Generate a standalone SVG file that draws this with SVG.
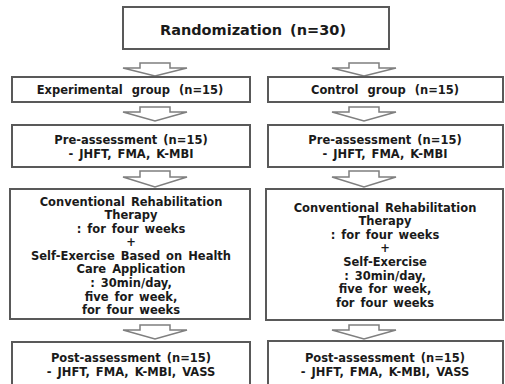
<svg xmlns="http://www.w3.org/2000/svg" width="505" height="384" viewBox="0 0 505 384">
<style>
.box{fill:#fff;stroke:#595959;stroke-width:2}
.arr{fill:#fff;stroke:#7f7f7f;stroke-width:1.5;stroke-linejoin:miter}
text{font-family:"DejaVu Sans","Liberation Sans",sans-serif;font-weight:bold;font-size:11.5px;fill:#1a1a1a;text-anchor:middle;word-spacing:2px}
.big{font-size:14.5px;word-spacing:3px}
.wide{word-spacing:5px}
</style>
<rect width="505" height="384" fill="#fff"/>
<g id="connectors">
<path class="arr" d="M140,63 H170 V68 H187 L155,76 L123,68 H140 Z"/>
<path class="arr" d="M349,63 H379 V68 H396 L364,76 L332,68 H349 Z"/>
<path class="arr" d="M140,107 H170 V112 H187 L155,121 L123,112 H140 Z"/>
<path class="arr" d="M349,107 H379 V112 H396 L364,121 L332,112 H349 Z"/>
<path class="arr" d="M140,171 H170 V177 H187 L155,187 L123,177 H140 Z"/>
<path class="arr" d="M349,171 H379 V177 H396 L364,187 L332,177 H349 Z"/>
<path class="arr" d="M140,325 H170 V330 H187 L155,339 L123,330 H140 Z"/>
<path class="arr" d="M349,325 H379 V330 H396 L364,339 L332,330 H349 Z"/>
</g>
<g id="randomization">
<rect class="box" x="123" y="7" width="266" height="42"/>
<text class="big" x="253" y="34.5">Randomization (n=30)</text>
</g>
<g id="experimental">
<rect class="box" x="12" y="77" width="238" height="25"/>
<text class="wide" x="130" y="93.5">Experimental group (n=15)</text>
</g>
<g id="control">
<rect class="box" x="268" y="77" width="235" height="25"/>
<text class="wide" x="385" y="93.5">Control group (n=15)</text>
</g>
<g id="pre-exp">
<rect class="box" x="12" y="125" width="238" height="42"/>
<text x="131" y="144">Pre-assessment (n=15)</text>
<text x="131" y="157.5">- JHFT, FMA, K-MBI</text>
</g>
<g id="pre-ctrl">
<rect class="box" x="268" y="125" width="235" height="42"/>
<text x="385" y="144">Pre-assessment (n=15)</text>
<text x="385" y="157.5">- JHFT, FMA, K-MBI</text>
</g>
<g id="intervention-exp">
<rect class="box" x="10" y="189" width="240" height="130"/>
<text x="131" y="205.5">Conventional Rehabilitation</text>
<text x="131" y="219">Therapy</text>
<text x="131" y="232.6">: for four weeks</text>
<text x="131" y="246.2">+</text>
<text x="131" y="259.8">Self-Exercise Based on Health</text>
<text x="131" y="273.4">Care Application</text>
<text x="131" y="287">: 30min/day,</text>
<text x="131" y="300.6">five for week,</text>
<text x="131" y="314.2">for four weeks</text>
</g>
<g id="intervention-ctrl">
<rect class="box" x="266" y="189" width="237" height="131"/>
<text x="385" y="211.5">Conventional Rehabilitation</text>
<text x="385" y="225.1">Therapy</text>
<text x="385" y="238.7">: for four weeks</text>
<text x="385" y="252.3">+</text>
<text x="385" y="265.9">Self-Exercise</text>
<text x="385" y="279.5">: 30min/day,</text>
<text x="385" y="293.1">five for week,</text>
<text x="385" y="306.7">for four weeks</text>
</g>
<g id="post-exp">
<rect class="box" x="12" y="342" width="238" height="50"/>
<text x="131" y="361.5">Post-assessment (n=15)</text>
<text x="131" y="375.5">- JHFT, FMA, K-MBI, VASS</text>
</g>
<g id="post-ctrl">
<rect class="box" x="268" y="341" width="235" height="51"/>
<text x="385" y="361.5">Post-assessment (n=15)</text>
<text x="385" y="375.5">- JHFT, FMA, K-MBI, VASS</text>
</g>
</svg>
